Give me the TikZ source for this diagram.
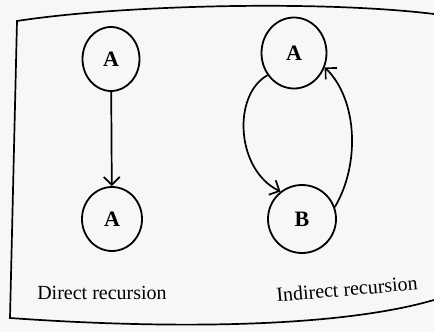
\documentclass[tikz,border=0pt]{standalone}
\usepackage{fontspec}
\setmainfont{Liberation Serif}
\usetikzlibrary{shapes.geometric,arrows.meta}
\tikzset{
  vert/.style={draw, ellipse, line width=1.8pt, inner sep=0pt, font=\fontsize{22}{24}\selectfont\bfseries},
  conn/.style={line width=1.7pt, -{Straight Barb[length=8pt,width=16pt,line width=1.7pt]}},
  frame/.style={line width=1.7pt},
  caption/.style={font=\fontsize{20}{22}\selectfont, inner sep=0pt}
}
\begin{document}
\begin{tikzpicture}[x=1pt,y=-1pt]
\useasboundingbox (0,0) rectangle (434,332);
\fill[black!3] (0,0) rectangle (434,332);
% frame
\draw[frame] (434,14) .. controls (320,0) and (120,5) .. (17,21) -- (10,318)
  .. controls (150,328) and (330,330) .. (434,300);
% direct recursion
\node[vert, minimum width=57pt, minimum height=64pt] (a1) at (111,59) {A};
\node[vert, minimum width=60pt, minimum height=64pt] (a2) at (112,219) {A};
\draw[conn] (a1) -- (a2);
% indirect recursion
\node[vert, minimum width=65pt, minimum height=71pt] (a3) at (294,53) {A};
\node[vert, minimum width=68pt, minimum height=68pt] (b) at (302,219) {B};
\draw[conn] (a3.220) .. controls (232,95) and (236,170) .. (b.128);
\draw[conn] (b.20) .. controls (360,165) and (358,100) .. (a3.-25);
% captions
\node[caption] (c1) at (102,293) {Direct recursion};
\node[caption, rotate=5] (c2) at (347,289) {Indirect recursion};
\end{tikzpicture}
\end{document}
